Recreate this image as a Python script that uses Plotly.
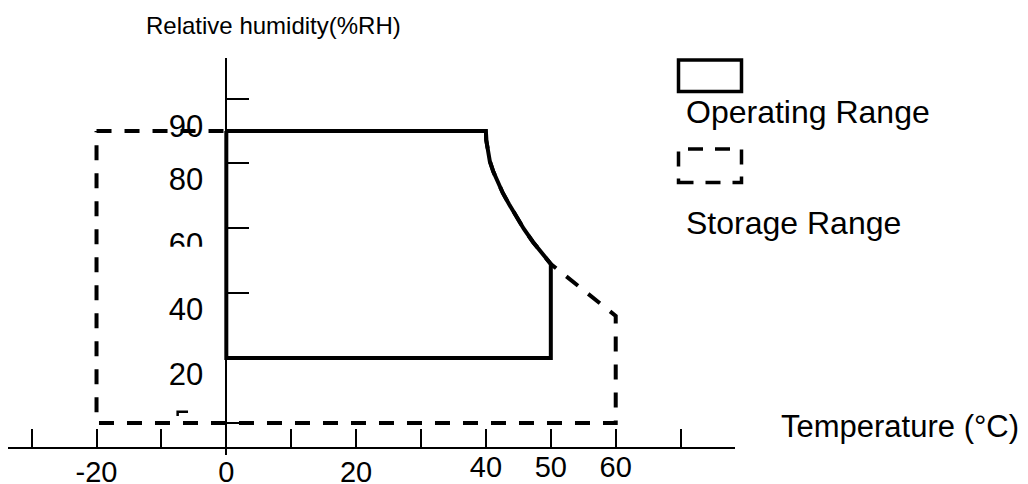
import plotly.graph_objects as go

# ---------------- data ----------------
# curved upper-right boundary shared by both ranges (°C, %RH)
curve_temp = [40, 40.05, 40.25, 40.6, 41.15, 41.85, 42.6, 43.55, 44.6, 45.85, 47.25, 48.65, 50]
curve_rh = [90, 87.2, 84.1, 80.7, 77.4, 74.0, 70.9, 67.5, 63.8, 59.8, 55.8, 52.1, 49]

# Operating range outline
op_temp = [0] + curve_temp + [50, 0, 0]
op_rh = [90] + curve_rh + [20, 20, 90]

# Storage range outline
st_temp = [-20] + curve_temp + [60, 60, -20, -20]
st_rh = [90] + curve_rh + [33, 0, 0, 90]

# small stray mark visible in the original drawing
mark_temp = [-7.5, -7.5, -5.9]
mark_rh = [2.1, 3.4, 3.4]

# axis ticks and labels
x_ticks = [-30, -20, -10, 0, 10, 20, 30, 40, 50, 60, 70]
x_labels_low = [-20, 0, 20]
x_labels_high = [40, 50, 60]
y_ticks = [0, 20, 40, 60, 80, 100]
y_labels = [80, 60, 40, 20]
y_label_top = [90]

legend_names = ["Operating Range", "Storage Range"]
x_title = "Temperature (°C)"
y_title = "Relative humidity(%RH)"

# ---------------- layout geometry ----------------
OFF = 8                      # page body offset of the figure
W, H = 1020, 476
L, R, T, B = 0, 293, 50, 29
PW, PH = W - L - R, H - T - B
X_RANGE = [-33.64, 78.38]
Y_RANGE = [-9.90, 112.52]
XAXIS_POS = (448 - 440) / PH - 1 / PH
YAXIS_POS = (226.3 - OFF - L) / PW
FONT = "Liberation Sans, Arial, sans-serif"


def pxx(p):
    return (p - OFF - L) / PW


def pxy(p):
    return (H - B - (p - OFF)) / PH


fig = go.Figure()
fig.add_trace(go.Scatter(x=st_temp, y=st_rh, mode="lines",
                         line=dict(color="black", width=4, dash="15px,13px"),
                         hoverinfo="skip", showlegend=False, cliponaxis=False))
fig.add_trace(go.Scatter(x=op_temp, y=op_rh, mode="lines",
                         line=dict(color="black", width=4),
                         hoverinfo="skip", showlegend=False, cliponaxis=False))
fig.add_trace(go.Scatter(x=mark_temp, y=mark_rh, mode="lines",
                         line=dict(color="black", width=2.5),
                         hoverinfo="skip", showlegend=False))
# empty traces that register the overlay label axes
fig.add_trace(go.Scatter(x=[], y=[], xaxis="x2", yaxis="y", showlegend=False))
fig.add_trace(go.Scatter(x=[], y=[], xaxis="x", yaxis="y2", showlegend=False))
fig.add_trace(go.Scatter(x=[], y=[], xaxis="x", yaxis="y3", showlegend=False))

xtickfont = dict(family=FONT, size=29, color="black")
ytickfont = dict(family=FONT, size=31, color="black")
common = dict(showgrid=False, zeroline=False, fixedrange=True, automargin=False)

fig.update_layout(
    width=W, height=H,
    margin=dict(l=L, r=R, t=T, b=B, pad=0, autoexpand=False),
    paper_bgcolor="white", plot_bgcolor="white",
    showlegend=False,
    xaxis=dict(range=X_RANGE, anchor="free", position=XAXIS_POS,
               showline=True, linecolor="black", linewidth=2,
               ticks="inside", ticklen=18, tickwidth=2, tickcolor="black",
               tickvals=x_ticks,
               ticktext=[str(v) if v in x_labels_low else "" for v in x_ticks],
               tickfont=xtickfont, ticklabelstandoff=-2, **common),
    xaxis2=dict(range=X_RANGE, overlaying="x", anchor="free", position=XAXIS_POS,
                showline=False, ticks="", tickvals=x_labels_high,
                ticktext=[str(v) for v in x_labels_high],
                tickfont=xtickfont, ticklabelstandoff=-1, **common),
    yaxis=dict(range=Y_RANGE, anchor="free", position=YAXIS_POS,
               showline=True, linecolor="black", linewidth=2,
               ticks="inside", ticklen=22, tickwidth=1.5, tickcolor="black",
               tickvals=y_ticks, showticklabels=False, **common),
    yaxis2=dict(range=Y_RANGE, overlaying="y", anchor="free", position=YAXIS_POS,
                showline=False, ticks="", tickvals=y_labels,
                ticktext=[str(v) for v in y_labels],
                tickfont=ytickfont, ticklabelshift=16, ticklabelstandoff=23, **common),
    yaxis3=dict(range=Y_RANGE, overlaying="y", anchor="free", position=YAXIS_POS,
                showline=False, ticks="", tickvals=y_label_top,
                ticktext=[str(v) for v in y_label_top],
                tickfont=ytickfont, ticklabelshift=-5, ticklabelstandoff=23, **common),
)

# legend keys drawn like the original (boxes with captions below)
fig.add_shape(type="rect", xref="paper", yref="paper",
              x0=pxx(678.5), x1=pxx(741.5), y0=pxy(91.5), y1=pxy(60),
              line=dict(color="black", width=3.5), fillcolor="rgba(0,0,0,0)")
fig.add_shape(type="rect", xref="paper", yref="paper",
              x0=pxx(678.5), x1=pxx(741.5), y0=pxy(182.5), y1=pxy(149),
              line=dict(color="black", width=3.5, dash="15px,12px"),
              fillcolor="rgba(0,0,0,0)")
# the "60" label is cut off in the original
fig.add_shape(type="rect", xref="paper", yref="paper", layer="above",
              x0=pxx(160), x1=pxx(212), y0=pxy(262), y1=pxy(246.7),
              line=dict(width=0), fillcolor="white")

ann_font_big = dict(family=FONT, size=32, color="black")
fig.add_annotation(x=pxx(684), y=pxy(112.5), xref="paper", yref="paper",
                   text=legend_names[0], showarrow=False,
                   xanchor="left", yanchor="middle", font=ann_font_big)
fig.add_annotation(x=pxx(684), y=pxy(222.5), xref="paper", yref="paper",
                   text=legend_names[1], showarrow=False,
                   xanchor="left", yanchor="middle", font=ann_font_big)
fig.add_annotation(x=pxx(779), y=pxy(426), xref="paper", yref="paper",
                   text=x_title, showarrow=False,
                   xanchor="left", yanchor="middle",
                   font=dict(family=FONT, size=31, color="black"))
fig.add_annotation(x=pxx(143.5), y=pxy(25.8), xref="paper", yref="paper",
                   text=y_title, showarrow=False,
                   xanchor="left", yanchor="middle",
                   font=dict(family=FONT, size=24, color="black"))

fig.write_html("out.html", config={"displayModeBar": False})
